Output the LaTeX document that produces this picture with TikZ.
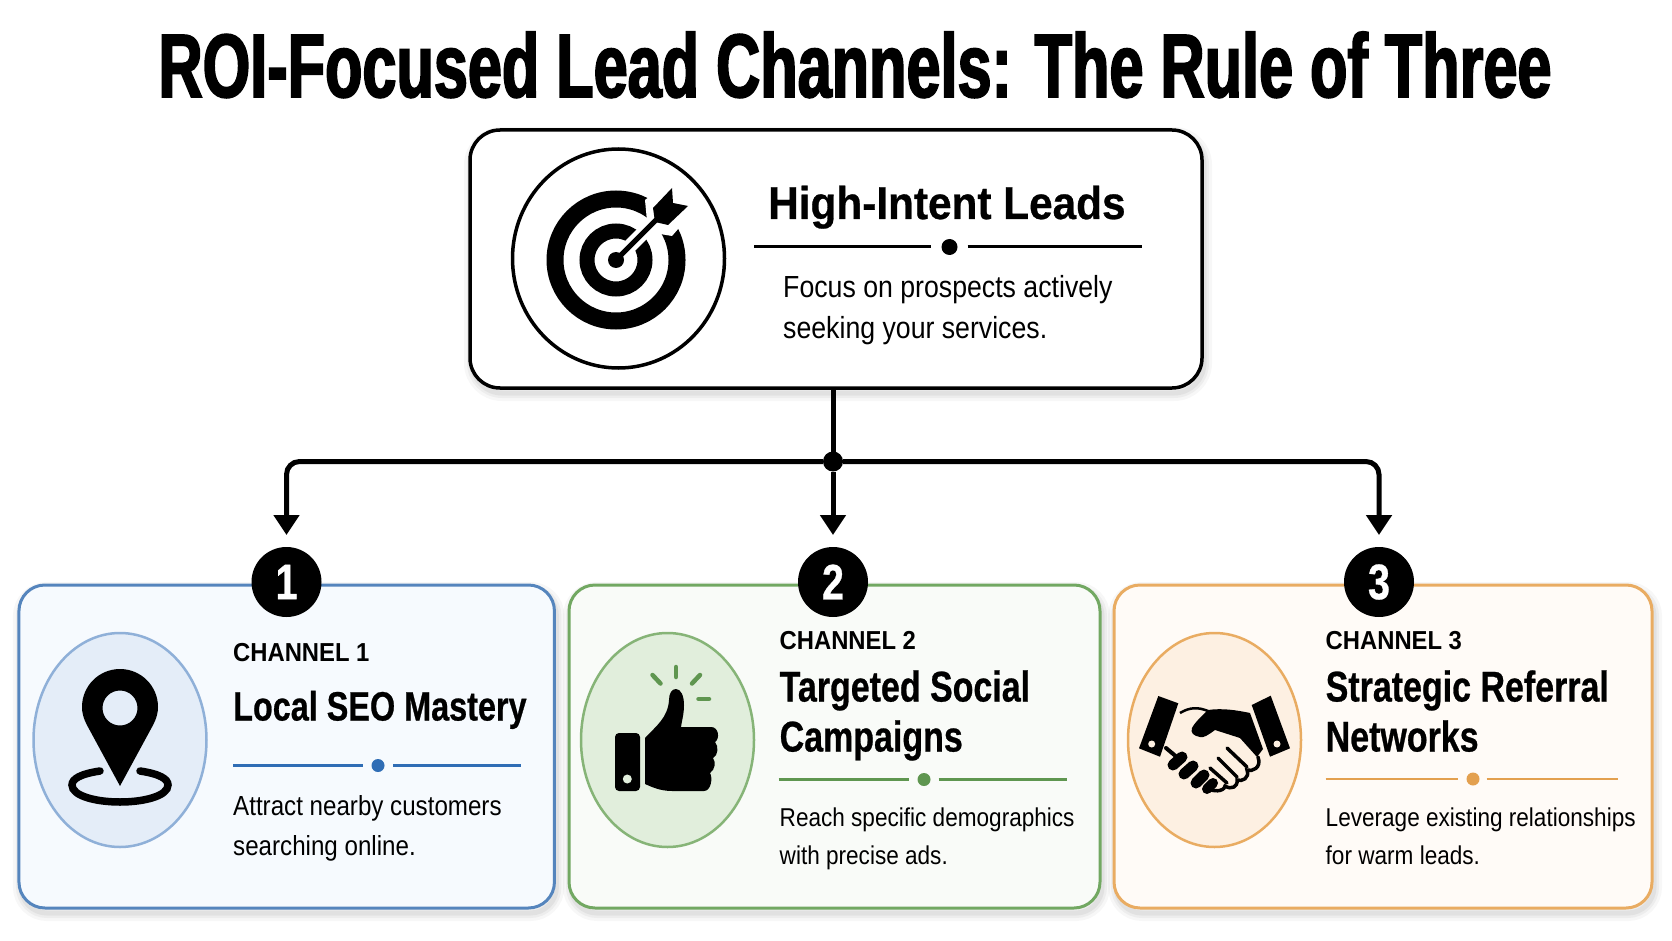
\documentclass[tikz,border=0pt]{standalone}
\usepackage{fontspec}
\usepackage{tikz}
\usetikzlibrary{arrows.meta,shapes.geometric}
\setmainfont{Liberation Sans}
\newfontfamily\titlefont[FakeStretch=.68,FakeBold=2]{Liberation Sans Bold}
\newfontfamily\leadfont[FakeStretch=.92,FakeBold=.6]{Liberation Sans Bold}
\newfontfamily\headfont[FakeStretch=.79,FakeBold=.6]{Liberation Sans Bold}
\newfontfamily\tagfont[FakeStretch=.916]{Liberation Sans Bold}
\newfontfamily\bodyfont[FakeStretch=.875]{Liberation Sans}
\definecolor{bluedark}{HTML}{5585BD}
\definecolor{bluefill}{HTML}{F6FAFE}
\definecolor{bluesoft}{HTML}{E4EDF8}
\definecolor{blueedge}{HTML}{8FB0D8}
\definecolor{bluerule}{HTML}{2F6DB5}
\definecolor{greendark}{HTML}{72A862}
\definecolor{greenfill}{HTML}{F9FBF8}
\definecolor{greensoft}{HTML}{E1EEDC}
\definecolor{greenedge}{HTML}{86B477}
\definecolor{greenrule}{HTML}{5F9650}
\definecolor{orangedark}{HTML}{E9AC62}
\definecolor{orangefill}{HTML}{FFFBF7}
\definecolor{orangesoft}{HTML}{FDF0E2}
\definecolor{orangerule}{HTML}{E3A04F}

\begin{document}
\begin{tikzpicture}[
    x=1pt, y=-1pt,
    softshadow/.style={
        preaction={draw=black, draw opacity=.03, line width=16pt, transform canvas={xshift=2pt, yshift=-5pt}},
        preaction={draw=black, draw opacity=.04, line width=10pt, transform canvas={xshift=2pt, yshift=-5pt}},
        preaction={draw=black, draw opacity=.05, line width=5pt, transform canvas={xshift=2pt, yshift=-5pt}}
    },
    leadbox/.style={
        rectangle, draw=black, fill=white, line width=3.5pt, rounded corners=30pt,
        minimum width=732pt, minimum height=258pt, inner sep=0pt, outer sep=0pt, softshadow
    },
    cardbox/.style={
        rectangle, line width=3pt, rounded corners=26pt,
        minimum height=323pt, inner sep=0pt, outer sep=0pt, softshadow
    },
    iconback/.style={
        ellipse, line width=2.5pt, minimum width=173pt, minimum height=214pt, inner sep=0pt
    },
    badge/.style={
        circle, fill=black, text=white, minimum size=70pt, inner sep=0pt, outer sep=0pt,
        font=\headfont\fontsize{50}{50}\selectfont
    },
    hub/.style={circle, fill=black, minimum size=20pt, inner sep=0pt, outer sep=0pt},
    flow/.style={line width=5pt, rounded corners=13pt, -{Triangle[width=25pt,length=20pt]}, shorten >=12pt},
    titletext/.style={anchor=base, inner sep=0pt, font=\titlefont\fontsize{90}{90}\selectfont},
    leadtext/.style={anchor=base west, inner sep=0pt, font=\leadfont\fontsize{46}{46}\selectfont},
    headtext/.style={anchor=base west, inner sep=0pt, font=\headfont\fontsize{43}{43}\selectfont},
    tagtext/.style={anchor=base west, inner sep=0pt, font=\tagfont\fontsize{26}{26}\selectfont},
    bodytext/.style={anchor=base west, inner sep=0pt, font=\bodyfont\fontsize{25.8}{25.8}\selectfont}
]
    \useasboundingbox (0,0) rectangle (1672,941);

    \node[titletext] (title) at (855,97) {ROI-Focused Lead Channels: The Rule of Three};

    % Lead box
    \node[leadbox] (lead) at (836,259) {};
    \node[ellipse, draw=black, line width=3.5pt, minimum width=212pt, minimum height=219pt, inner sep=0pt] (leadicon) at (618.5,258.5) {};
    \draw[line width=17pt] (616,260) circle[radius=61];
    \draw[line width=15pt] (616,260) circle[radius=29];
    \fill (616,260) circle[radius=8];
    \draw[white, line width=14pt] (625,251) -- (660,216);
    \fill[white] (645,200) -- (674,178) -- (698,206) -- (672,236) -- (648,232) -- cycle;
    \draw[line width=5pt] (616,260) -- (660,216);
    \fill (653,208) -- (672,188) -- (673,203) -- (688,206) -- (668,225) -- (655,222) -- cycle;

    \node[leadtext] (leadhead) at (768,219) {High-Intent Leads};
    \draw[line width=3pt] (754,247) -- (931,247);
    \fill (949.5,247) circle[radius=8];
    \draw[line width=3pt] (967.5,247) -- (1142,247);
    \node[bodytext, font=\bodyfont\fontsize{30.5}{30.5}\selectfont] (leadbody1) at (783,297) {Focus on prospects actively};
    \node[bodytext, font=\bodyfont\fontsize{30.5}{30.5}\selectfont] (leadbody2) at (783,338) {seeking your services.};

    % Channel cards
    \node[cardbox, draw=bluedark, fill=bluefill, minimum width=535.5pt] (card1) at (286.7,746.5) {};
    \node[cardbox, draw=greendark, fill=greenfill, minimum width=531pt] (card2) at (834.5,746.5) {};
    \node[cardbox, draw=orangedark, fill=orangefill, minimum width=538pt] (card3) at (1383,746.5) {};

    \node[badge] (badge1) at (286.5,582) {1};
    \node[badge] (badge2) at (833,582) {2};
    \node[badge] (badge3) at (1379,582) {3};

    % Connectors
    \node[hub] (split) at (833,461.5) {};
    \draw[line width=5pt] (lead.south -| split) -- (split);
    \draw[flow] (split) -| (badge1.north);
    \draw[flow] (split) -- (badge2.north);
    \draw[flow] (split) -| (badge3.north);

    % Channel 1
    \node[iconback, draw=blueedge, fill=bluesoft] (icon1) at (120,740) {};
    \draw[line width=7.5pt, line cap=round] (100,771) .. controls (80,774) and (72,779) .. (72,785) .. controls (72,796) and (96,802) .. (120,802) .. controls (144,802) and (168,796) .. (168,785) .. controls (168,779) and (160,774) .. (140,771);
    \fill[even odd rule] (120,786) -- (88,727) .. controls (83,718) and (82,712) .. (82,707) .. controls (82,686) and (99,669) .. (120,669) .. controls (141,669) and (158,686) .. (158,707) .. controls (158,712) and (157,718) .. (152,727) -- cycle (120,708) circle[radius=17.5];
    \node[tagtext] (tag1) at (233,661.5) {CHANNEL 1};
    \node[headtext, font=\headfont\fontsize{41}{41}\selectfont] (head1) at (233,720.5) {Local SEO Mastery};
    \draw[bluerule, line width=2.5pt] (233,765.5) -- (363,765.5);
    \fill[bluerule] (378,765.5) circle[radius=6.5];
    \draw[bluerule, line width=2.5pt] (393,765.5) -- (521,765.5);
    \node[bodytext, font=\bodyfont\fontsize{27.6}{27.6}\selectfont] (body11) at (233,815.5) {Attract nearby customers};
    \node[bodytext, font=\bodyfont\fontsize{27.6}{27.6}\selectfont] (body12) at (233,855) {searching online.};

    % Channel 2
    \node[iconback, draw=greenedge, fill=greensoft] (icon2) at (667.5,740) {};
    \draw[greenrule, line width=4.5pt, line cap=round] (676,667) -- (676,677);
    \draw[greenrule, line width=4.5pt, line cap=round] (652.5,675) -- (660.5,683.5);
    \draw[greenrule, line width=4.5pt, line cap=round] (700,675) -- (692,683.5);
    \draw[greenrule, line width=4.5pt, line cap=round] (698.5,699) -- (709,699);
    \fill[rounded corners=4pt] (615,733) rectangle (640,791);
    \fill[greensoft] (627.3,779) circle[radius=4.5];
    \fill (645,738) .. controls (655,727) and (668,718) .. (669,700) .. controls (669,693) and (672,689) .. (676,689) .. controls (681,689) and (684,696) .. (684,705) .. controls (684,714) and (682,720) .. (681,727) -- (711,727) .. controls (719,727) and (720,739) .. (715,742) .. controls (719,746) and (718,756) .. (713,758) .. controls (716,762) and (715,770) .. (710,773) .. controls (713,778) and (711,791) .. (704,791) -- (672,791) .. controls (660,791) and (652,787) .. (645,784) -- cycle;
    \node[tagtext] (tag2) at (779.5,649) {CHANNEL 2};
    \node[headtext] (head21) at (779.5,701.5) {Targeted Social};
    \node[headtext] (head22) at (779.5,751.5) {Campaigns};
    \draw[greenrule, line width=2.5pt] (778.5,779.5) -- (909,779.5);
    \fill[greenrule] (924,779.5) circle[radius=6.5];
    \draw[greenrule, line width=2.5pt] (938.5,779.5) -- (1067,779.5);
    \node[bodytext] (body21) at (779.5,826) {Reach specific demographics};
    \node[bodytext] (body22) at (779.5,864) {with precise ads.};

    % Channel 3
    \node[iconback, draw=orangedark, fill=orangesoft] (icon3) at (1214.5,740) {};
    \fill (1158.3,696) -- (1178.3,703.3) -- (1160,756.7) -- (1139,748.3) -- cycle;
    \fill[orangesoft] (1151.7,744) circle[radius=3.5];
    \fill (1251.7,705) -- (1270.7,695.7) -- (1290,748.3) -- (1270,756.7) -- cycle;
    \fill[orangesoft] (1277,744) circle[radius=3.5];
    \draw[line width=2.5pt] (1180,713) .. controls (1190,707) and (1198,707) .. (1208,711);
    \fill (1208,710) .. controls (1222,708) and (1236,710) .. (1250,713) -- (1263,749) -- (1257,757) -- (1240,738) -- (1215,730) .. controls (1208,735) and (1204,738) .. (1200,737) .. controls (1194,736) and (1190,733) .. (1192,728) .. controls (1195,722) and (1202,716) .. (1208,710) -- cycle;
    \draw[line width=3.5pt, line cap=round] (1258,757) .. controls (1262,768) and (1252,772) .. (1247,770) .. controls (1250,778) and (1242,782) .. (1237,780) .. controls (1238,787) and (1231,790) .. (1225,786) .. controls (1224,792) and (1212,792) .. (1208,788);
    \draw[line width=3.5pt, line cap=round] (1227,748) -- (1247,767);
    \draw[line width=3.5pt, line cap=round] (1218,758) -- (1237,777);
    \draw[line width=3.5pt, line cap=round] (1210,768) -- (1227,783);
    \draw[line width=4pt, line cap=round] (1166,748) -- (1178,758);
    \draw[line width=11pt, line cap=round] (1173,765) -- (1182,757);
    \draw[line width=11pt, line cap=round] (1184,774) -- (1193,766);
    \draw[line width=11pt, line cap=round] (1196,783) -- (1204,775);
    \draw[line width=10pt, line cap=round] (1207,789) -- (1213,783);
    \node[tagtext] (tag3) at (1325.5,649) {CHANNEL 3};
    \node[headtext] (head31) at (1325.5,701.5) {Strategic Referral};
    \node[headtext] (head32) at (1325.5,751.5) {Networks};
    \draw[orangerule, line width=2.5pt] (1325.5,779) -- (1457.5,779);
    \fill[orangerule] (1473,779) circle[radius=6.5];
    \draw[orangerule, line width=2.5pt] (1486.5,779) -- (1618,779);
    \node[bodytext] (body31) at (1325.5,826) {Leverage existing relationships};
    \node[bodytext] (body32) at (1325.5,864) {for warm leads.};
\end{tikzpicture}
\end{document}
